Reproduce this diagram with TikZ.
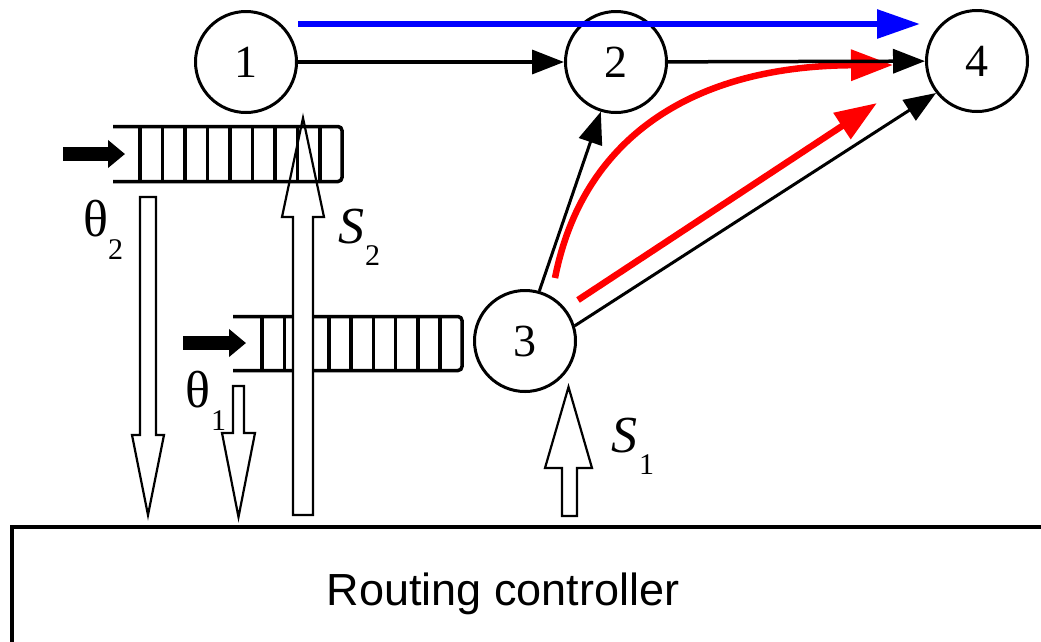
\documentclass[tikz,border=0pt]{standalone}
\usepackage{fontspec}
\setmainfont{Liberation Serif}
\newfontfamily\sansf{Liberation Sans}
\usetikzlibrary{arrows.meta}
\begin{document}
\begin{tikzpicture}[x=1pt,y=-1pt,
  nd/.style={circle, draw, line width=3pt, minimum size=101pt, inner sep=0pt, font=\fontsize{46}{46}\selectfont},
  conn/.style={line width=3.5pt, -{Triangle[length=32pt,width=24pt]}},
  redarr/.style={draw=red, line width=6.5pt, -{Triangle[length=42pt,width=30pt]}},
  bluearr/.style={draw=blue, line width=6pt, -{Triangle[length=43pt,width=28pt]}},
  queue/.style={line width=3.5pt, rounded corners=4pt},
  qdiv/.style={line width=3.5pt},
  hollow/.style={draw, line width=2.2pt, fill=white, line join=miter},
  feed/.style={line width=14pt, -{Triangle[length=17pt,width=27pt]}},
  lbl/.style={inner sep=0pt, anchor=base west},
  big/.style={font=\fontsize{52}{52}\selectfont},
  bigit/.style={font=\itshape\fontsize{52}{52}\selectfont},
  sub/.style={font=\fontsize{30}{30}\selectfont}
]
\useasboundingbox (0,0) rectangle (1041,641);
\clip (0,0) rectangle (1041,641);

% routing controller box
\draw[line width=4pt] (12,660) -- (12,527) -- (1060,527);
\node[font=\sansf\fontsize{45}{45}\selectfont, anchor=base, inner sep=0pt] (rc) at (503,605) {Routing controller};

% nodes
\node[nd] (n1) at (246,62) {1};
\node[nd] (n2) at (616,62) {2};
\node[nd] (n4) at (977,61) {4};
\node[nd] (n3) at (525,341) {3};

% free ends
\coordinate (b1s) at (298,24);
\coordinate (b1e) at (920,24);
\coordinate (r1s) at (555,278);
\coordinate (r1e) at (893,65);
\coordinate (r2s) at (578,300);
\coordinate (r2e) at (877,103);

% coloured paths
\draw[bluearr] (b1s) -- (b1e);
\draw[redarr] (r1s) .. controls (582,140) and (690,66) .. (r1e);
\draw[redarr] (r2s) -- (r2e);

% black connectors
\draw[conn] (n1) -- (n2);
\draw[conn] (n2) -- (n4);
\draw[conn, line width=3pt] (n3.17) -- (n4.218);
\draw[conn, line width=3pt] (n3.74) -- (n2.253);

% bottom queue
\draw[queue] (233,316.5) -- (462,316.5) -- (462,370.5) -- (233,370.5);
\foreach \k in {0,...,8} \draw[qdiv] ({262+22.25*\k},316.5) -- ({262+22.25*\k},370.5);

% theta1 arrow
\draw[hollow] (233,386) -- (244,386) -- (244,433) -- (255,433) -- (238.5,517) -- (222,433) -- (233,433) -- cycle;

% S2 arrow
\draw[hollow] (293,515) -- (313,515) -- (313,217) -- (324,217) -- (303,118) -- (282,217) -- (293,217) -- cycle;

% top queue
\draw[queue] (113,126.5) -- (342,126.5) -- (342,181.5) -- (113,181.5);
\foreach \k in {0,...,8} \draw[qdiv] ({140+22.5*\k},126.5) -- ({140+22.5*\k},181.5);

% theta2 arrow
\draw[hollow] (140,197) -- (156,197) -- (156,435) -- (164,435) -- (148,515) -- (132,435) -- (140,435) -- cycle;

% S1 arrow
\draw[hollow] (562,516) -- (577,516) -- (577,468) -- (592,468) -- (568.5,387) -- (545,468) -- (562,468) -- cycle;

% feed arrows
\coordinate (f2s) at (63,154);
\coordinate (f2e) at (125,154);
\coordinate (f1s) at (183,343);
\coordinate (f1e) at (246,343);
\draw[feed] (f2s) -- (f2e);
\draw[feed] (f1s) -- (f1e);

% labels
\node[lbl, big] (t2) at (83,236) {θ};
\node[lbl, sub] (t2s) at (108,259) {2};
\node[lbl, big] (t1) at (185,407) {θ};
\node[lbl, sub] (t1s) at (211,430) {1};
\node[lbl, bigit] (s2) at (338,243) {S};
\node[lbl, sub] (s2s) at (365,265) {2};
\node[lbl, bigit] (s1) at (611,452) {S};
\node[lbl, sub] (s1s) at (639,474) {1};
\end{tikzpicture}
\end{document}
